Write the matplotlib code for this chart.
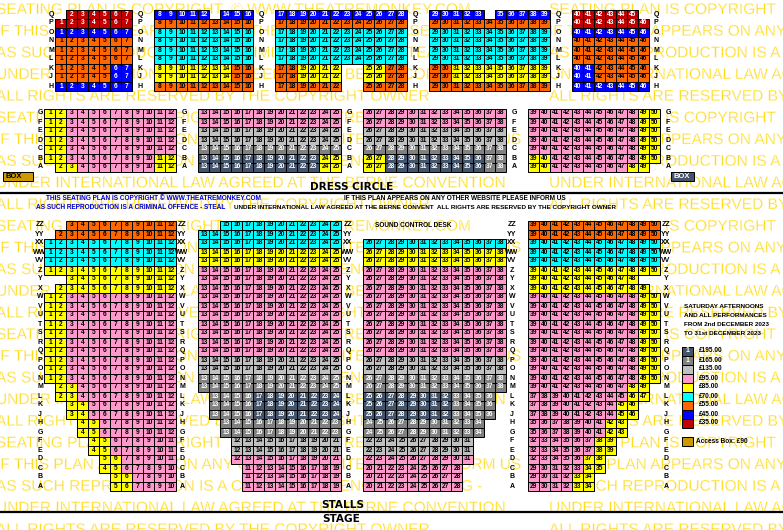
import matplotlib
matplotlib.use("Agg")
import matplotlib.pyplot as plt
import matplotlib.patheffects as pe

# price bands
PRICE_COLORS = {"S": "#44546a", "G": "#808080", "L": "#c0c0c0", "P": "#ff99cc", "Y": "#ffff00",
                "C": "#00ffff", "O": "#ff6600", "B": "#0000ff", "R": "#c00000"}
WHITE_TEXT = "SGBR"
LEGEND_CODES = ["S", "G", "L", "P", "Y", "C", "O", "B", "R"]
LEGEND_PRICES = ["£195.00", "£165.00", "£135.00", "£95.00", "£85.00", "£70.00", "£55.00", "£45.00", "£35.00"]
LEGEND_TITLE = ["SATURDAY AFTERNOONS", "AND ALL PERFORMANCES", "FROM 2nd DECEMBER 2023", "TO 31st DECEMBER 2023"]
ACCESS_LABEL = "Access Box: £90"

WATERMARK = ["SEATING PLAN IS COPYRIGHT  © WWW.THEATREMONKEY.COM",
             "IF THIS PLAN APPEARS ON ANY OTHER WEBSITE PLEASE INFORM US",
             "AS SUCH REPRODUCTION IS A CRIMINAL OFFENCE - STEALING -",
             "UNDER INTERNATIONAL LAW AGREED AT THE BERNE CONVENTION",
             "ALL RIGHTS ARE RESERVED BY THE COPYRIGHT OWNER"]

# row names
UPPER_ROWS = ["Q", "P", "O", "N", "M", "L", "K", "J", "H"]
MIDDLE_ROWS = ["G", "F", "E", "D", "C", "B", "A"]
STALLS_ROWS = ["ZZ", "YY", "XX", "WW", "VV", "Z", "Y", "X", "W", "V", "U", "T", "S", "R", "Q", "P", "O",
               "N", "M", "L", "K", "J", "H", "G", "F", "E", "D", "C", "B", "A"]

# each row is (first seat number, price code per seat), "." is a gap, None is no seats
UPPER_1 = [(2, "RRRRRR"), (1, "RRRRRRR"), (1, "BBBBBBB"), (1, "OOOOOOO"), (1, "OOOOOOO"),
           (1, "OOOOOOO"), (1, "OOOOOBB"), (1, "OOOOOBB"), (1, "BBBBBBB")]
UPPER_2 = [(8, "BBBBB.BBB"), (8, "OOOOOOOOO"), (8, "CCCCCCCCC"), (8, "CCCCCCCCC"), (8, "CCCCCCCCC"),
           (8, "CCCCCCCCC"), (8, "YYYYYYYOO"), (8, "YYYYYYYOO"), (8, "OOOOOOOOO")]
UPPER_3 = [(17, "BBBBBBBBBBBB"), (17, "OOOOOOOOOOOO"), (17, "CCCCCCCCCCCC"), (17, "CCCCCCCCCCCC"),
           (17, "CCCCCCCCCCCC"), (17, "CCCCCCCCCCCC"), (17, "OOYYYY..YYOO"), (17, "OOYYYY..YYOO"),
           (17, "OOOOOO..OOOO")]
UPPER_4 = [(29, "BBBBB.BBBBB"), (29, "OOOOOOOOOOO"), (29, "CCCCCCCCCCC"), (29, "CCCCCCCCCCC"),
           (29, "CCCCCCCCCCC"), (29, "CCCCCCCCCCC"), (29, "OOYYYYYYYYY"), (29, "OOYYYYYYYYY"),
           (29, "OOOOOOOOOOO")]
UPPER_5 = [(40, "RRRRRR"), (40, "RRRRRRR"), (40, "BBBBBBB"), (40, "OOOOOOO"), (40, "OOOOOOO"),
           (40, "OOOOOOO"), (40, "BBOOOOO"), (40, "BBOOOOO"), (40, "BBBBBBB")]

MIDDLE_1 = [(1, "YYPPPPPPPPPP"), (1, "YYPPPPPPPPPP"), (1, "YYPPPPPPPPPP"), (1, "YYPPPPPPPPPP"),
            (1, "YYPPPPPPPPPP"), (1, "YYPPPPPPPPYY"), (2, "YYPPPPPPPYY")]
MIDDLE_2 = [(13, "PPPPPPPPPPPPP"), (13, "PPPPPPPPPPPPP"), (13, "LLLLLLLLLLLLL"), (13, "LLLLLLLLLLLLL"),
            (13, "GGGGGGGGGGGGG"), (13, "SSSSSSSSSSSYY"), (13, "SSSSSSSSSSSYY")]
MIDDLE_3 = [(26, "PPPPPPPPPPPPP"), (26, "PPPPPPPPPPPPP"), (26, "LLLLLLLLLLLLL"), (26, "LLLLLLLLLLLLL"),
            (26, "GGGGGGGGGGGGG"), (26, "YYSSSSSSSSSGG"), (26, "YYSSSSSSSSSGG")]
MIDDLE_4 = [(39, "PPPPPPPPPPYY"), (39, "PPPPPPPPPPYY"), (39, "PPPPPPPPPPYY"), (39, "PPPPPPPPPPYY"),
            (39, "PPPPPPPPPPYY"), (39, "YYPPPPPPPPYY"), (39, "YYPPPPPPPYY")]

STALLS_1 = [(3, "OOOOOOOOOO"), (2, "OOOOOOOOOOO"), (1, "CCCCCCCCCCCC"), (1, "CCCCCCCCCCCC"), (1, "CCCCCCCCCCCC"),
            (1, "YYYYYYYYYYYY"), (3, "YYYYYYYYYY"), (2, "YYYYYYYYYYY"), (1, "YYPPPPPPPPPP"), (1, "YYPPPPPPPPPP"),
            (1, "YYPPPPPPPPPP"), (1, "YYPPPPPPPPPP"), (1, "YYPPPPPPPPPP"), (1, "YYPPPPPPPPPP"), (1, "YYPPPPPPPPPP"),
            (1, "YYPPPPPPPPPP"), (1, "YYPPPPPPPPPP"), (1, "YYPPPPPPPPPP"), (2, "YYPPPPPPPPP"), (2, "YYPPPPPPPPP"),
            (3, "YYPPPPPPPP"), (3, "YYPPPPPPPP"), (4, "YYPPPPPPP"), (4, "YYPPPPPPP"), (4, "YYPPPPPP"),
            (4, "YYPPPPPP"), (5, "YYPPPPP"), (4, "YYPPPPP"), (5, "YYPPPP"), (5, "YYPPPP")]
STALLS_2 = [(15, "CCCCCCCCCCC"), (13, "CCCCCCCCCCCCC"), (13, "CCCCCCCCCCCCC"), (13, "YYYYYYYYYYYYY"), (13, "YYYYYYYYYYYYY"),
            (13, "PPPPPPPPPPPPP"), (13, "PPPPPPPPPPPPP"), (13, "PPPPPPPPPPPPP"), (13, "PPPPPPPPPPPPP"), (13, "PPPPPPPPPPPPP"),
            (13, "PPPPPPPPPPPPP"), (13, "PPPPPPPPPPPPP"), (13, "PPPPPPPPPPPPP"), (13, "PPPPPPPPPPPPP"), (13, "PPPPPPPPPPPPP"),
            (13, "LLLLLLLLLLLLL"), (13, "LLLLLLLLLLLLL"), (13, "GGGGGGGGGGGGG"), (13, "GGGGGGGGGGGGG"), (13, "GGGGSSSSSSSS"),
            (13, "GGGGSSSSSSSS"), (13, "GGGGSSSSSSSS"), (13, "GGGGGGGGGGG"), (13, "GGGGGGGGGGG"), (12, "LLLLLLLLLL"),
            (12, "LLLLLLLLLL"), (12, "PPPPPPPPPP"), (11, "PPPPPPPPP"), (11, "PPPPPPPPP"), (11, "PPPPPPPPP")]
STALLS_3 = [None, None, (26, "CCCCCCCCCCCCC"), (26, "YYYYYYYYYYYYY"), (26, "YYYYYYYYYYYYY"),
            (26, "PPPPPPPPPPPPP"), (26, "PPPPPPPPPPPPP"), (26, "PPPPPPPPPPPPP"), (26, "PPPPPPPPPPPPP"), (26, "PPPPPPPPPPPPP"),
            (26, "PPPPPPPPPPPPP"), (26, "PPPPPPPPPPPPP"), (26, "PPPPPPPPPPPPP"), (26, "PPPPPPPPPPPPP"), (26, "PPPPPPPPPPPPP"),
            (26, "LLLLLLLLLLLLL"), (26, "LLLLLLLLLLLLL"), (26, "GGGGGGGGGGGGG"), (26, "GGGGGGGGGGGGG"), (25, "SSSSSSSSGGGG"),
            (25, "SSSSSSSSGGGG"), (25, "SSSSSSSSGGGG"), (24, "GGGGGGGGGGG"), (24, "GGGGGGGGGGG"), (22, "LLLLLLLLLL"),
            (22, "LLLLLLLLLL"), (22, "PPPPPPPPPP"), (20, "PPPPPPPPP"), (20, "PPPPPPPPP"), (20, "PPPPPPPPP")]
STALLS_4 = [(39, "OOOOOOOOOOOO"), (39, "OOOOOOOOOOOO"), (39, "CCCCCCCCCCCC"), (39, "CCCCCCCCCCCC"), (39, "CCCCCCCCCCCC"),
            (39, "YYYYYYYYYYYY"), (39, "YYYYYYYYYY"), (39, "YYYYYYYYYYY"), (39, "PPPPPPPPPPYY"), (39, "PPPPPPPPPPYY"),
            (39, "PPPPPPPPPPYY"), (39, "PPPPPPPPPPYY"), (39, "PPPPPPPPPPYY"), (39, "PPPPPPPPPPYY"), (39, "PPPPPPPPPPYY"),
            (39, "PPPPPPPPPPYY"), (39, "PPPPPPPPPPYY"), (39, "PPPPPPPPPPYY"), (39, "PPPPPPPPPYY"), (37, "PPPPPPPPPYY"),
            (37, "PPPPPPPPYY"), (37, "PPPPPPPPYY"), (35, "PPPPPPPYY"), (35, "PPPPPPPYY"), (32, "PPPPPPYY"),
            (32, "PPPPPPYY"), (32, "PPPPPYY"), (29, "PPPPPYY"), (29, "PPPPYY"), (29, "PPPPYY")]

SEAT_W = 11
SEAT_H = 9
SEAT_FONT = "Liberation Sans"
EDGE = 0.72

fig = plt.figure(figsize=(7.83, 5.30), dpi=100)
ax = fig.add_axes([0, 0, 1, 1])
ax.set_xlim(0, 783)
ax.set_ylim(530, 0)
ax.axis("off")

# background copyright text, thinned with a white outline
thin = [pe.Normal(), pe.Stroke(linewidth=0.4, foreground="white")]
for i in range(25):
    line = WATERMARK[i % 5]
    for x0 in (-4, 549):
        ax.text(x0, 10 + i * 21.67, line, color="#ffd700", fontsize=11.15, family="Liberation Sans",
                va="center", ha="left", zorder=1, path_effects=thin)


def draw_boxes(xs, ys, w, cols):
    # fills first, then outlines on top so neighbours keep their shared line
    ax.bar(xs, SEAT_H, width=w, bottom=ys, align="edge", color=cols, linewidth=0, zorder=2)
    ax.bar(xs, SEAT_H, width=w, bottom=ys, align="edge", fill=False, edgecolor="black",
           linewidth=EDGE, zorder=2.5)


def draw_block(rows, left, top, n_cols, align="left"):
    xs, ys, cols = [], [], []
    for r, row in enumerate(rows):
        if row is None:
            continue
        first, codes = row
        offset = n_cols - len(codes) if align == "right" else 0
        for c, code in enumerate(codes):
            if code == ".":
                continue
            x = left + (c + offset) * SEAT_W
            y = top + r * SEAT_H
            xs.append(x)
            ys.append(y)
            cols.append(PRICE_COLORS[code])
            ax.text(x + SEAT_W / 2 + 0.5, y + 4, str(first + c), fontsize=4.8, fontweight="bold",
                    family=SEAT_FONT, color="white" if code in WHITE_TEXT else "black",
                    ha="center", va="center", zorder=3)
    draw_boxes(xs, ys, SEAT_W, cols)


def draw_labels(names, xs, top):
    for r, name in enumerate(names):
        for x in xs:
            ax.text(x, top + r * SEAT_H + 4, name, fontsize=5, fontweight="bold",
                    family=SEAT_FONT, ha="center", va="center", zorder=3)


def small_text(x, y, s, color="black", size=4.7):
    ax.text(x, y, s, fontsize=size, fontweight="bold", family=SEAT_FONT, color=color,
            ha="left", va="center", zorder=4)


# dress circle
draw_block(UPPER_1, 55, 10, 7, "right")
draw_block(UPPER_2, 154, 10, 9)
draw_block(UPPER_3, 275, 10, 12)
draw_block(UPPER_4, 429, 10, 11)
draw_block(UPPER_5, 572, 10, 7)
draw_labels(UPPER_ROWS, [51, 140, 261, 415, 558, 656], 10)
draw_block(MIDDLE_1, 44, 109, 12, "right")
draw_block(MIDDLE_2, 198, 109, 13)
draw_block(MIDDLE_3, 363, 109, 13)
draw_block(MIDDLE_4, 528, 109, 12)
draw_labels(MIDDLE_ROWS, [40, 184, 349, 514, 668], 109)

# stalls
draw_block(STALLS_1, 44, 221, 12, "right")
draw_block(STALLS_2, 198, 221, 13, "right")
draw_block(STALLS_3, 363, 221, 13)
draw_block(STALLS_4, 528, 221, 12)
draw_labels(STALLS_ROWS, [40, 182, 348, 512, 666], 221)

# boxes
draw_boxes([3], [172], 30, ["#cc9900"])
small_text(6, 176.5, "BOX", size=5.5)
draw_boxes([671], [172], 23, [PRICE_COLORS["S"]])
small_text(674, 176.5, "BOX", color="white", size=5.5)

# headings and rules
ax.hlines([192.5, 511.5], 0, 783, color="black", linewidth=1.6, zorder=3)
ax.text(352, 186.5, "DRESS CIRCLE", fontsize=7.6, fontweight="bold", family="DejaVu Sans", ha="center", va="center", zorder=4)
ax.text(343, 505.5, "STALLS", fontsize=7.6, fontweight="bold", family="DejaVu Sans", ha="center", va="center", zorder=4)
ax.text(341, 518.5, "STAGE", fontsize=7.6, fontweight="bold", family="DejaVu Sans", ha="center", va="center", zorder=4)

small_text(46.5, 198.5, "THIS SEATING PLAN IS COPYRIGHT © WWW.THEATREMONKEY.COM", color="#0000cc")
small_text(35.5, 207.5, "AS SUCH REPRODUCTION IS A CRIMINAL OFFENCE - STEAL", color="#0000cc")
small_text(233.5, 207.5, "UNDER INTERNATIONAL LAW AGREED AT THE BERNE CONVENT  ALL RIGHTS ARE RESERVED BY THE COPYRIGHT OWNER", size=4.6)
small_text(344.5, 198.5, "IF THIS PLAN APPEARS ON ANY OTHER WEBSITE PLEASE INFORM US")
small_text(375, 225.5, "SOUND CONTROL DESK")

# price key
for i, line in enumerate(LEGEND_TITLE):
    small_text(684.5, 306.5 + i * 9, line, size=4.6)
key_ys = [347 + i * 9 for i in range(len(LEGEND_CODES))]
draw_boxes([682] * len(key_ys), key_ys, 11, [PRICE_COLORS[c] for c in LEGEND_CODES])
for i, price in enumerate(LEGEND_PRICES):
    small_text(699, 351 + i * 9, price)
    if i < 2:
        ax.text(688, 351 + i * 9, "1", fontsize=5, fontweight="bold", family=SEAT_FONT, color="white",
                ha="center", va="center", zorder=4)
draw_boxes([682], [437], 11, ["#cc9900"])
small_text(696, 441.5, ACCESS_LABEL)

fig.savefig("out.png", dpi=100)
